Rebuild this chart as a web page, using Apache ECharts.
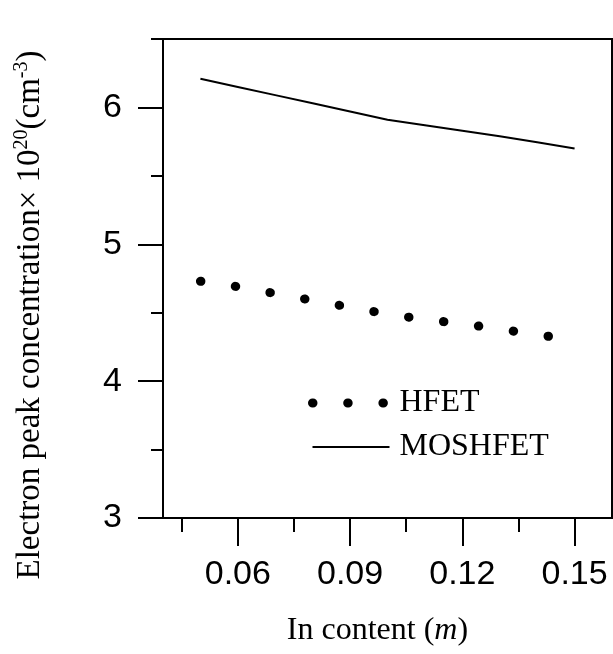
<!DOCTYPE html>
<html><head><meta charset="utf-8">
<script src="https://cdn.jsdelivr.net/npm/echarts@6/dist/echarts.min.js"></script>
<style>html,body{margin:0;padding:0;background:#fff}#c{width:613px;height:654px}</style>
</head><body><div id="c"></div>
<script>
// In content (m)
const inContent = [0.05, 0.06, 0.07, 0.08, 0.09, 0.10, 0.11, 0.12, 0.13, 0.14, 0.15];
// Electron peak concentration x 10^20 cm^-3
const hfet = [4.73, 4.69, 4.64, 4.59, 4.54, 4.49, 4.45, 4.42, 4.38, 4.34, 4.30];
const moshfet = [6.21, 6.15, 6.09, 6.03, 5.97, 5.91, 5.87, 5.83, 5.79, 5.745, 5.70];
const seriesNames = ['HFET', 'MOSHFET'];
const xMajorTicks = [0.06, 0.09, 0.12, 0.15];
const xMinorTicks = [0.045, 0.075, 0.105, 0.135];
const yMajorTicks = [3, 4, 5, 6];
const yMinorTicks = [3.5, 4.5, 5.5, 6.5];

const chart = echarts.init(document.getElementById('c'), null, {renderer: 'canvas'});
const sans = 'Liberation Sans, Arial, sans-serif';
const serif = 'Liberation Serif, Times New Roman, serif';
const black = '#000';
const dotStyle = {color: black, width: 9, type: [0.5, 34.7], cap: 'round'};
const solidStyle = {color: black, width: 2};

const option = {
  animation: false,
  backgroundColor: '#fff',
  grid: {left: 163, top: 39, right: 1, bottom: 136, show: true, borderColor: black, borderWidth: 2, backgroundColor: 'transparent'},
  xAxis: [{
    type: 'value', min: 0.04, max: 0.16, position: 'bottom',
    axisLine: {show: true, lineStyle: {color: black, width: 2}},
    axisTick: {show: true, customValues: xMajorTicks, length: 28, lineStyle: {color: black, width: 2}},
    axisLabel: {show: true, customValues: xMajorTicks, margin: 40, color: black, fontFamily: sans, fontSize: 34,
      formatter: v => v.toFixed(2)},
    splitLine: {show: false},
    name: '{n|In content (}{i|m}{n|)}', nameLocation: 'middle', nameGap: 97,
    nameTextStyle: {rich: {
      n: {fontFamily: serif, fontSize: 32, color: black},
      i: {fontFamily: serif, fontSize: 32, fontStyle: 'italic', color: black}
    }, padding: [0, 20, 0, 0]}
  }, {
    type: 'value', min: 0.04, max: 0.16, position: 'bottom',
    axisLine: {show: false},
    axisTick: {show: true, customValues: xMinorTicks, length: 14, lineStyle: {color: black, width: 2}},
    axisLabel: {show: false},
    splitLine: {show: false}
  }],
  yAxis: [{
    type: 'value', min: 3, max: 6.5, position: 'left',
    axisLine: {show: true, lineStyle: {color: black, width: 2}},
    axisTick: {show: true, customValues: yMajorTicks, length: 25, lineStyle: {color: black, width: 2}},
    axisLabel: {show: true, customValues: yMajorTicks, margin: 41, color: black, fontFamily: sans, fontSize: 34},
    splitLine: {show: false}
  }, {
    type: 'value', min: 3, max: 6.5, position: 'left',
    axisLine: {show: false},
    axisTick: {show: true, customValues: yMinorTicks, length: 12, lineStyle: {color: black, width: 2}},
    axisLabel: {show: false},
    splitLine: {show: false}
  }],
  legend: {
    orient: 'vertical', left: 308, top: 387, padding: 0,
    itemWidth: 77, itemHeight: 14, itemGap: 12,
    itemStyle: {opacity: 0},
    data: [
      {name: seriesNames[0], lineStyle: dotStyle, itemStyle: {opacity: 0}},
      {name: seriesNames[1], lineStyle: solidStyle, itemStyle: {opacity: 0}}
    ],
    textStyle: {fontFamily: serif, fontSize: 32, color: black, lineHeight: 32, padding: [0, 0, 0, 5]}
  },
  graphic: [{
    type: 'text', x: 30, y: 315, rotation: Math.PI / 2,
    style: {
      text: '{n|Electron peak concentration× 10}{s|20}{n|(cm}{s|-3}{n|)}',
      align: 'center', verticalAlign: 'middle',
      rich: {
        n: {fontFamily: serif, fontSize: 33, fill: black, lineHeight: 36},
        s: {fontFamily: serif, fontSize: 20, fill: black, lineHeight: 36, verticalAlign: 'top', padding: [0, 0, 10, 0]}
      }
    }
  }],
  series: [{
    name: seriesNames[0], type: 'line', xAxisIndex: 0, yAxisIndex: 0,
    data: inContent.map((x, i) => [x, hfet[i]]),
    symbol: 'none', showSymbol: false,
    lineStyle: dotStyle,
    itemStyle: {color: black}
  }, {
    name: seriesNames[1], type: 'line', xAxisIndex: 0, yAxisIndex: 0,
    data: inContent.map((x, i) => [x, moshfet[i]]),
    symbol: 'none', showSymbol: false,
    lineStyle: solidStyle,
    itemStyle: {color: black}
  }]
};
chart.setOption(option);
</script>
</body></html>
